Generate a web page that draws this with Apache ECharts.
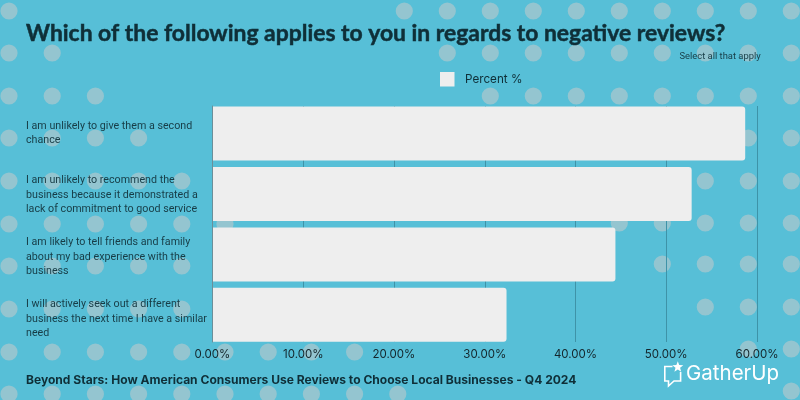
<!DOCTYPE html>
<html><head><meta charset="utf-8">
<style>html,body{margin:0;padding:0;background:#57bfd7}#c{width:800px;height:400px}</style>
<script src="https://cdn.jsdelivr.net/npm/echarts@6/dist/echarts.min.js"></script>
</head><body><div id="c"></div>
<script>
const categories = [
  "I am unlikely to give them a second\nchance",
  "I am unlikely to recommend the\nbusiness because it demonstrated a\nlack of commitment to good service",
  "I am likely to tell friends and family\nabout my bad experience with the\nbusiness",
  "I will actively seek out a different\nbusiness the next time I have a similar\nneed"
];
const percentValues = [58.7, 52.8, 44.4, 32.4];
const seriesName = "Percent %";
const titleText = "Which of the following applies to you in regards to negative reviews?";
const subtitleText = "Select all that apply";
const footerText = "Beyond Stars: How American Consumers Use Reviews to Choose Local Businesses - Q4 2024";
const logoText = "GatherUp";

const dark = "#0f2f38";
const dots = [];
const dot = (x, y) => dots.push({type:"circle", silent:true, z:-10, shape:{cx:x, cy:y, r:8.6}, style:{fill:"#94c5d0"}});
const leftY = [11,53,96,138,181,224,266,309,352,394];
const rightY = [11,53,96,138,181,223,264,307,349,391];
for (let r = 0; r < 10; r++) {
  for (let c = 0; c <= r; c++) dot(9 + c * 43.2, leftY[r]);
  for (let c = r; c < 10; c++) dot(404.3 + c * 43, rightY[r]);
}
const txt = (x, y, text, font, fill, extra) => ({type:"text", silent:true, z:5, x, y,
  style:Object.assign({text, font, fill, textVerticalAlign:"middle"}, extra || {})});

const starPoints = [];
for (let i = 0; i < 10; i++) {
  const rad = i % 2 ? 2.4 : 5.8, a = -Math.PI / 2 + i * Math.PI / 5;
  starPoints.push([677.8 + rad * Math.cos(a), 367 + rad * Math.sin(a)]);
}
const logoIcon = [
  {type:"polyline", silent:true, z:5,
    shape:{points:[[672.5,366.5],[664.8,366.5],[664.8,381],[668.5,381],[668.5,386],[674,381],[680.6,381],[680.6,372]]},
    style:{stroke:"#ffffff", lineWidth:1.6, fill:null}},
  {type:"polygon", silent:true, z:5, shape:{points:starPoints}, style:{fill:"#ffffff"}}
];

const chart = echarts.init(document.getElementById("c"), null, {renderer:"canvas"});
chart.setOption({
  animation:false,
  backgroundColor:"#57bfd7",
  grid:[
    {left:212.5, width:544.5, top:103.2, height:241.9},
    {left:212.5, width:544.5, top:106, height:236},
    {left:212.5, width:544.5, top:102.3, height:248}
  ],
  xAxis:[
    {gridIndex:0, type:"value", min:0, max:60, interval:10, show:false},
    {gridIndex:1, type:"value", min:0, max:60, interval:10,
      axisLine:{show:false}, axisTick:{show:false},
      splitLine:{show:true, lineStyle:{color:"#3e93a8", width:1}},
      axisLabel:{margin:7, fontFamily:"Inter", fontSize:11.5, color:"#14262c", formatter:v => v.toFixed(2) + "%"}},
    {gridIndex:2, type:"value", min:0, max:60, show:false}
  ],
  yAxis:[
    {gridIndex:0, type:"category", inverse:true, data:categories, show:false},
    {gridIndex:1, type:"value", min:0, max:1, z:4,
      axisLine:{show:true, lineStyle:{color:"#6b8f99", width:1}},
      axisTick:{show:false}, axisLabel:{show:false}, splitLine:{show:false}},
    {gridIndex:2, type:"category", inverse:true, data:categories, z:5,
      axisLine:{show:false}, axisTick:{show:false},
      axisLabel:{align:"left", margin:186.5, fontFamily:"Roboto", fontSize:10.7, lineHeight:14.5, color:"#173c46"}}
  ],
  legend:{
    left:435, top:67, itemWidth:14.5, itemHeight:14.5, itemGap:11, icon:"rect",
    data:[seriesName],
    textStyle:{fontFamily:"Inter", fontSize:11.7, color:dark, padding:[0,0,0,5.5]}
  },
  series:[{
    name:seriesName, type:"bar", xAxisIndex:0, yAxisIndex:0,
    data:percentValues, barWidth:54,
    itemStyle:{color:"#eeeeee", borderRadius:[0,3,3,0]}
  }],
  graphic:{elements:dots.concat(logoIcon, [
    txt(26, 33.5, titleText, "700 22.9px Lato", dark, {stroke:dark, lineWidth:0.5}),
    txt(679.5, 57, subtitleText, "400 9.4px Roboto", "#173c46"),
    txt(26, 380, footerText, "700 12.05px Inter", dark),
    txt(686, 374, logoText, "400 20.5px Inter", "#ffffff")
  ])}
});
</script></body></html>
